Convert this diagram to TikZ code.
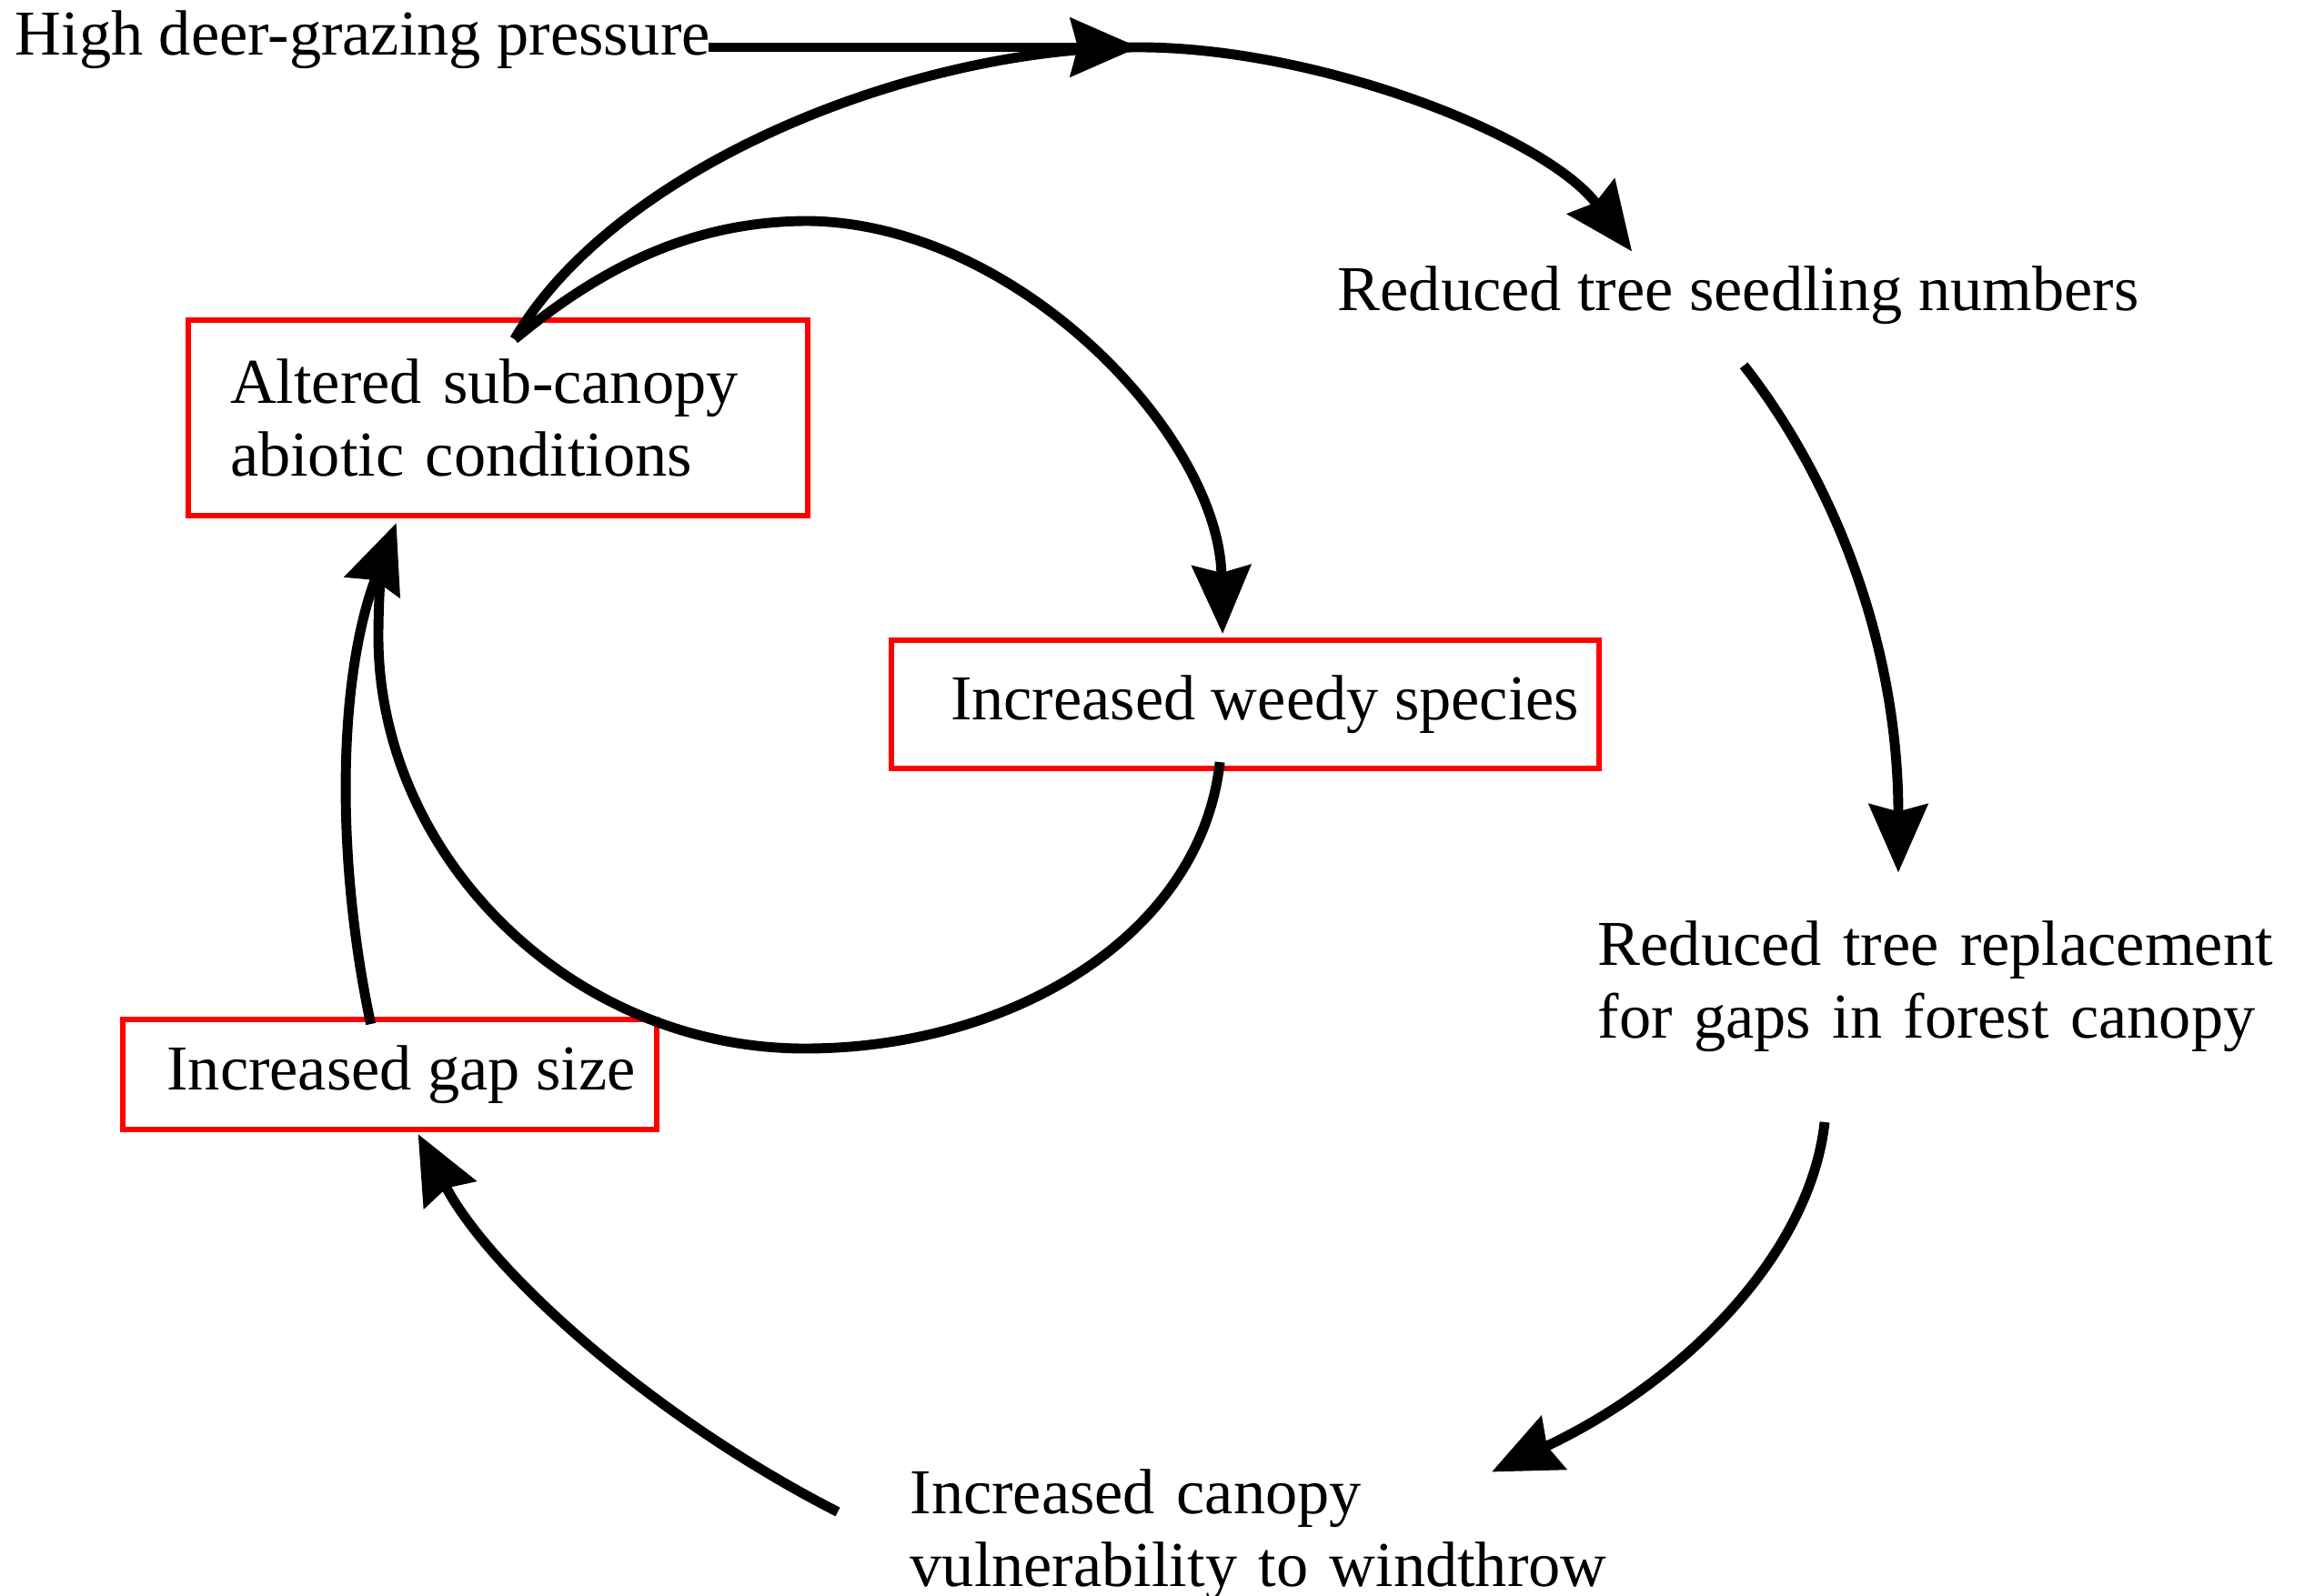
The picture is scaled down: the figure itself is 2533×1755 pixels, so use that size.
\documentclass[tikz,border=0pt]{standalone}
\usepackage{fontspec}
\setmainfont{Liberation Serif}
\usetikzlibrary{arrows.meta,calc}
\begin{document}
\begin{tikzpicture}[x=0.01cm,y=-0.01cm,
  txt/.style={font=\fontsize{20}{22.76}\selectfont, inner sep=0pt},
  redbox/.style={txt, draw=red, line width=1.7pt, anchor=north west, inner ysep=0pt},
  conn/.style={line width=3.1pt, black},
  arr/.style={conn, -{Stealth[length=0.75cm,width=0.64cm,inset=0.08cm]}}]
\useasboundingbox (0,0) rectangle (2533,1755);
% plain text nodes
\node[txt, anchor=base west] (high) at (16,61) {High deer-grazing pressure};
\node[txt, anchor=base west] (seed) at (1470,342) {Reduced tree seedling numbers};
\node[txt, anchor=base west, text width=7.5cm, align=left] (repl) at (1756,1061) {Reduced tree replacement\\for gaps in forest canopy};
\node[txt, anchor=base west, text width=7.8cm, align=left] (canopy) at (1000,1664) {Increased canopy\\vulnerability to windthrow};
% red boxes
\node[redbox, minimum width=6.81cm, minimum height=2.15cm, text width=5.89cm, inner xsep=0.46cm, align=left] (altered) at (204,349) {Altered sub-canopy\\abiotic conditions};
\node[redbox, minimum width=7.77cm, minimum height=1.41cm, inner xsep=0.22cm] (weedy) at (977,701) {\hspace*{0.43cm}Increased weedy species};
\node[redbox, minimum width=5.87cm, minimum height=1.21cm, inner xsep=0.21cm] (gap) at (132,1118) {\hspace*{0.25cm}Increased gap size};
% junction
\coordinate (P) at (1252,52);
% connectors
\draw[arr] ($(high.base east)+(-3,-9)$) -- (P);
\draw[arr] ($(altered.north)+(18,24)$) .. controls (675,185) and (1000,52) .. (P) .. controls (1450,52) and (1700,150) .. ($(seed.north)+(-117,-16)$);
\draw[arr] ($(seed.south)+(6,44)$) .. controls (2010,520) and (2087,700) .. ($(repl.north west)+(331,-52)$);
\draw[arr] ($(repl.south west)+(250,77)$) .. controls (1990,1380) and (1850,1520) .. ($(canopy.north west)+(640,4)$);
\draw[arr] ($(canopy.north west)+(-79,48)$) .. controls (720,1560) and (540,1400) .. ($(gap.south)+(31,2)$);
\draw[arr] ($(gap.north)+(-21,8)$) .. controls (370,950) and (370,750) .. ($(altered.south)+(-112,5)$);
\draw[arr] ($(altered.north)+(18,24)$) .. controls (660,295) and (760,243) .. (889,243) .. controls (1120,246) and (1340,480) .. ($(weedy.north)+(-25,-4)$);
\draw[conn, shorten >=0.35cm] ($(weedy.south)+(-28,-10)$) .. controls (1320,1030) and (1110,1153) .. (885,1153) .. controls (627,1153) and (416,941) .. (416,700) .. controls (416,640) and (422,600) .. ($(altered.south)+(-112,5)$);
\end{tikzpicture}
\end{document}
